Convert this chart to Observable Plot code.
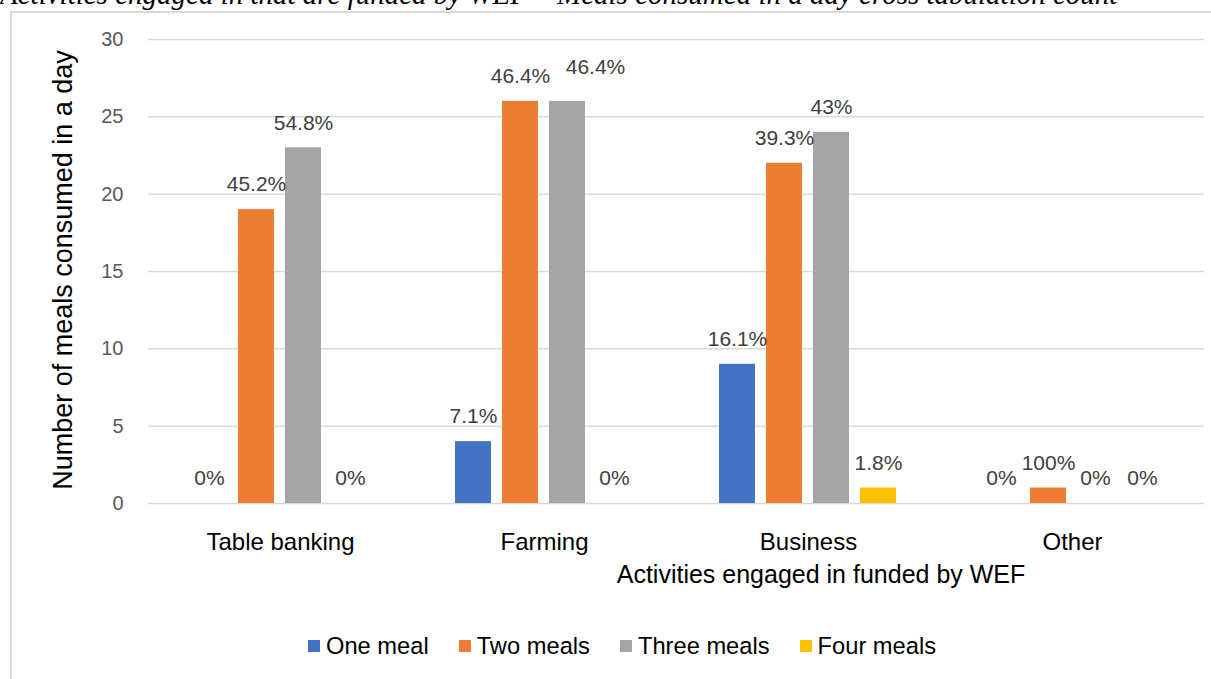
<!DOCTYPE html>
<html>
<head>
<meta charset="utf-8">
<script src="https://cdn.jsdelivr.net/npm/d3@7"></script>
<script src="https://cdn.jsdelivr.net/npm/@observablehq/plot@0.6"></script>
<style>
  html, body { margin: 0; padding: 0; background: #ffffff; overflow: hidden; width: 1211px; height: 679px; }
  body { position: relative; font-family: "Liberation Sans", Arial, sans-serif; }
  #title { position: absolute; left: 0; top: -20px; font-family: "Liberation Serif", "Times New Roman", serif; font-style: italic; font-size: 29px; line-height: 29px; white-space: nowrap; color: #000; }
  #frame { position: absolute; left: 10px; top: 11px; width: 1300px; height: 800px; border-left: 2px solid #d9d9d9; border-top: 2px solid #d9d9d9; box-sizing: border-box; }
  #chart { position: absolute; left: 0; top: 0; }
  #ytitle { position: absolute; left: 63px; top: 270px; transform: translate(-50%, -50%) rotate(-90deg); font-size: 27px; line-height: 27px; white-space: nowrap; color: #000; }
  #xtitle { position: absolute; left: 821px; top: 562px; transform: translateX(-50%); font-size: 25px; line-height: 25px; white-space: nowrap; color: #000; }
  #legend { position: absolute; left: 308px; top: 634px; display: flex; align-items: center; font-size: 23.7px; line-height: 24px; color: #000; white-space: nowrap; }
  #legend .item { display: flex; align-items: center; margin-right: 30px; }
  #legend .sw { width: 12px; height: 12px; margin-right: 6px; }
</style>
</head>
<body>
<div id="title">Activities engaged in that are funded by WEF * Meals consumed in a day cross tabulation count</div>
<div id="frame"></div>
<div id="chart"></div>
<div id="ytitle">Number of meals consumed in a day</div>
<div id="xtitle">Activities engaged in funded by WEF</div>
<div id="legend"></div>
<script>
// ---- data ----
const categories = ["Table banking", "Farming", "Business", "Other"];
const series = ["One meal", "Two meals", "Three meals", "Four meals"];
const oneMeal = [0, 4, 9, 0];
const twoMeals = [19, 26, 22, 1];
const threeMeals = [23, 26, 24, 0];
const fourMeals = [0, 0, 1, 0];
const oneMealPct = ["0%", "7.1%", "16.1%", "0%"];
const twoMealsPct = ["45.2%", "46.4%", "39.3%", "100%"];
const threeMealsPct = ["54.8%", "46.4%", "43%", "0%"];
const fourMealsPct = ["0%", "0%", "1.8%", "0%"];
const yTicks = [0, 5, 10, 15, 20, 25, 30];
const colors = ["#4472c4", "#ed7d31", "#a5a5a5", "#ffc000"];
// label that the original chart nudged aside to avoid a collision
const nudged = {category: "Farming", series: "Three meals"};

const valuesBySeries = [oneMeal, twoMeals, threeMeals, fourMeals];
const pctBySeries = [oneMealPct, twoMealsPct, threeMealsPct, fourMealsPct];
const rows = [];
categories.forEach((c, ci) => {
  series.forEach((s, si) => {
    rows.push({category: c, series: s, value: valuesBySeries[si][ci], label: pctBySeries[si][ci]});
  });
});
const isNudged = (d) => d.category === nudged.category && d.series === nudged.series;

const chart = Plot.plot({
  width: 1211,
  height: 600,
  marginLeft: 147,
  marginRight: 6,
  marginTop: 39,
  marginBottom: 97,
  style: {fontFamily: "'Liberation Sans', Arial, sans-serif", background: "transparent", overflow: "visible"},
  fx: {domain: categories, padding: 0, label: null},
  x: {domain: series, paddingInner: 0.23, paddingOuter: 0.87, axis: null},
  y: {domain: [0, 30], label: null},
  color: {domain: series, range: colors},
  marks: [
    Plot.gridY(yTicks, {stroke: "#d9d9d9", strokeOpacity: 1, strokeWidth: 1.5}),
    Plot.axisY(yTicks, {tickSize: 0, tickPadding: 25, fontSize: 20, fill: "#595959", label: null}),
    Plot.axisFx({anchor: "bottom", tickSize: 0, tickPadding: 29, fontSize: 24, fill: "#000", label: null}),
    Plot.barY(rows, {fx: "category", x: "series", y: "value", fill: "series"}),
    Plot.text(rows.filter((d) => !isNudged(d)), {fx: "category", x: "series", y: "value", text: "label", dy: -25, fontSize: 21, fill: "#404040"}),
    Plot.text(rows.filter(isNudged), {fx: "category", x: "series", y: "value", text: "label", dx: 28, dy: -34, fontSize: 21, fill: "#404040"})
  ]
});
document.getElementById("chart").appendChild(chart);

const legend = document.getElementById("legend");
series.forEach((s, i) => {
  const item = document.createElement("div");
  item.className = "item";
  const sw = document.createElement("div");
  sw.className = "sw";
  sw.style.background = colors[i];
  const t = document.createElement("span");
  t.textContent = s;
  item.appendChild(sw);
  item.appendChild(t);
  legend.appendChild(item);
});
</script>
</body>
</html>
